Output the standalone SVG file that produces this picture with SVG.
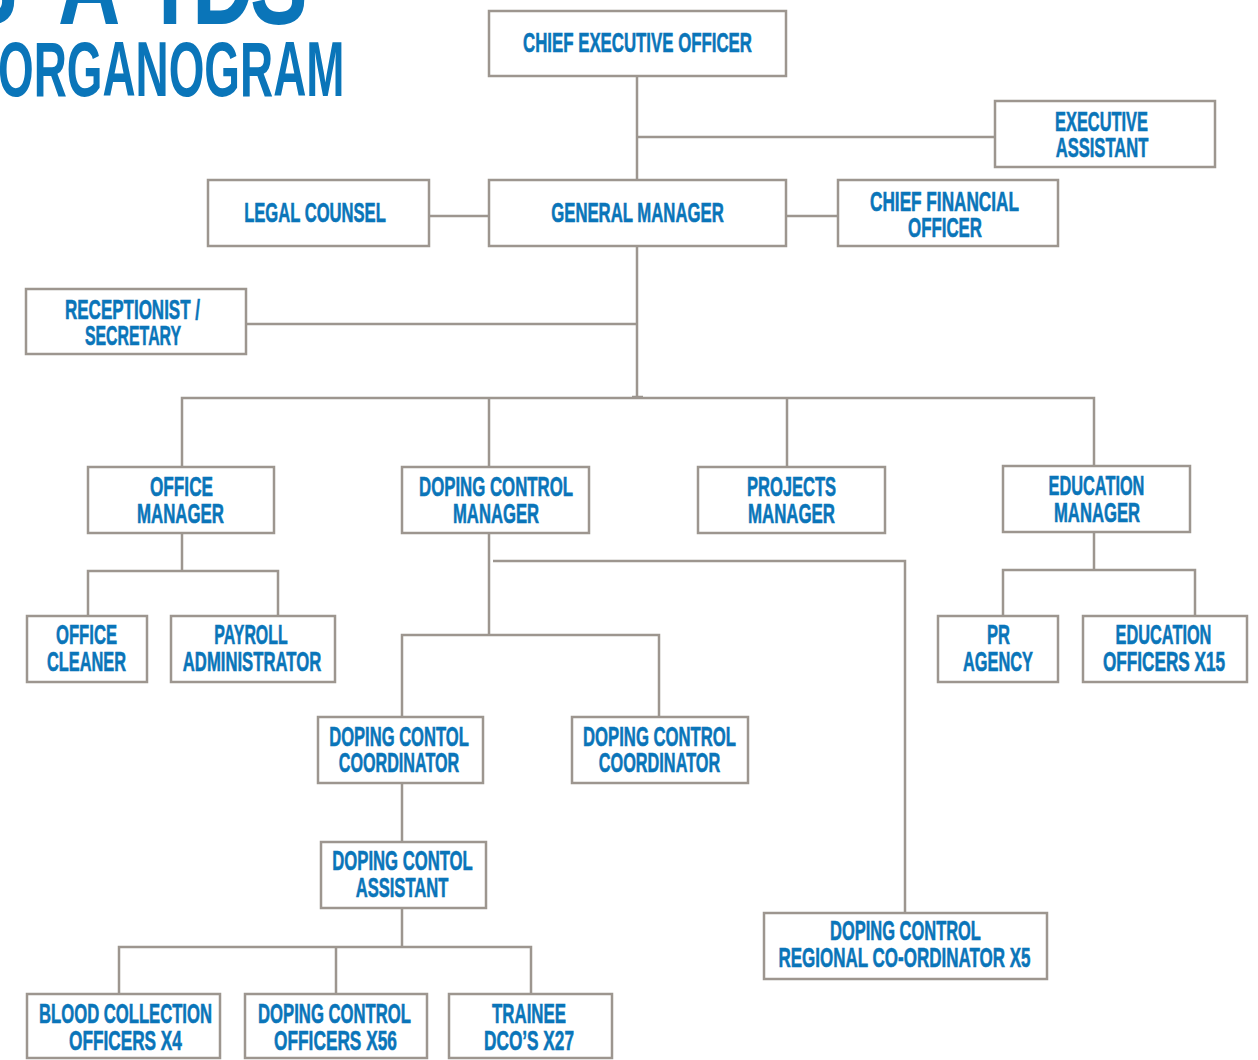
<svg xmlns="http://www.w3.org/2000/svg" width="1258" height="1060" viewBox="0 0 1258 1060">
<style>
  .box { fill: #ffffff; stroke: #9d968f; stroke-width: 2.5; }
  .ln { fill: none; stroke: #9d968f; stroke-width: 2.5; }
  .t { font-family: "Liberation Sans", Arial, sans-serif; font-weight: bold; font-size: 28px; fill: #0a75b9; stroke: #0a75b9; stroke-width: 0.6; text-anchor: middle; }
  .title { font-family: "Liberation Sans", Arial, sans-serif; font-weight: bold; fill: #0a75b9; }
</style>
<rect width="1258" height="1060" fill="#ffffff"/>
<g id="title">
  <text class="title" font-size="120" transform="translate(0,24) scale(0.72,1)" x="-55.6 80.6 219.4 266.7 347.2">SAIDS</text>
  <text class="title" font-size="78" transform="translate(-2,96) scale(0.588,1)">ORGANOGRAM</text>
</g>
<g id="connectors">
  <path class="ln" d="M637 76 V180 M637 137 H995 M429 216 H489 M786 216 H838 M637 246 V398 M246 324 H637 M632 397 H643"/>
  <path class="ln" d="M182 467 V398 H1094 V466 M489 398 V467 M787 398 V467"/>
  <path class="ln" d="M182 533 V571 M88 616 V571 H278 V616"/>
  <path class="ln" d="M489 533 V635 M402 717 V635 H659 V717 M493 561 H905 V913"/>
  <path class="ln" d="M1094 532 V570 M1003 616 V570 H1195 V616"/>
  <path class="ln" d="M402 783 V842 M402 908 V947 M119 994 V947 H531 V994 M336 947 V994"/>
</g>
<g id="ceo"><rect class="box" x="489" y="11" width="297" height="65"/><text class="t" transform="translate(637.5,52) scale(0.601,1)">CHIEF EXECUTIVE OFFICER</text></g>
<g id="exec-assistant"><rect class="box" x="995" y="101" width="220" height="66"/><text class="t" transform="translate(1101.5,131) scale(0.586,1)">EXECUTIVE</text><text class="t" transform="translate(1102,157) scale(0.592,1)">ASSISTANT</text></g>
<g id="legal"><rect class="box" x="208" y="180" width="221" height="66"/><text class="t" transform="translate(315,222) scale(0.593,1)">LEGAL COUNSEL</text></g>
<g id="gm"><rect class="box" x="489" y="180" width="297" height="66"/><text class="t" transform="translate(637.5,222) scale(0.598,1)">GENERAL MANAGER</text></g>
<g id="cfo"><rect class="box" x="838" y="180" width="220" height="66"/><text class="t" transform="translate(944.5,211) scale(0.614,1)">CHIEF FINANCIAL</text><text class="t" transform="translate(945,237) scale(0.602,1)">OFFICER</text></g>
<g id="receptionist"><rect class="box" x="26" y="289" width="220" height="65"/><text class="t" transform="translate(132.5,319) scale(0.607,1)">RECEPTIONIST /</text><text class="t" transform="translate(133,345) scale(0.567,1)">SECRETARY</text></g>
<g id="office-manager"><rect class="box" x="88" y="467" width="186" height="66"/><text class="t" transform="translate(181.5,496) scale(0.614,1)">OFFICE</text><text class="t" transform="translate(180.5,523) scale(0.602,1)">MANAGER</text></g>
<g id="dc-manager"><rect class="box" x="402" y="467" width="187" height="66"/><text class="t" transform="translate(496,496) scale(0.6,1)">DOPING CONTROL</text><text class="t" transform="translate(496,523) scale(0.595,1)">MANAGER</text></g>
<g id="projects-manager"><rect class="box" x="698" y="467" width="187" height="66"/><text class="t" transform="translate(791.5,496) scale(0.59,1)">PROJECTS</text><text class="t" transform="translate(791.5,523) scale(0.602,1)">MANAGER</text></g>
<g id="education-manager"><rect class="box" x="1003" y="466" width="187" height="66"/><text class="t" transform="translate(1096.5,495) scale(0.583,1)">EDUCATION</text><text class="t" transform="translate(1097,522) scale(0.595,1)">MANAGER</text></g>
<g id="office-cleaner"><rect class="box" x="27" y="616" width="120" height="66"/><text class="t" transform="translate(86.5,644) scale(0.594,1)">OFFICE</text><text class="t" transform="translate(86.5,671) scale(0.584,1)">CLEANER</text></g>
<g id="payroll"><rect class="box" x="171" y="616" width="164" height="66"/><text class="t" transform="translate(251,644) scale(0.568,1)">PAYROLL</text><text class="t" transform="translate(252,671) scale(0.596,1)">ADMINISTRATOR</text></g>
<g id="pr-agency"><rect class="box" x="938" y="616" width="120" height="66"/><text class="t" transform="translate(998.5,644) scale(0.591,1)">PR</text><text class="t" transform="translate(998,671) scale(0.584,1)">AGENCY</text></g>
<g id="education-officers"><rect class="box" x="1083" y="616" width="164" height="66"/><text class="t" transform="translate(1163.5,644) scale(0.583,1)">EDUCATION</text><text class="t" transform="translate(1164,671) scale(0.613,1)">OFFICERS X15</text></g>
<g id="dc-coordinator-1"><rect class="box" x="318" y="717" width="165" height="66"/><text class="t" transform="translate(399,746) scale(0.592,1)">DOPING CONTOL</text><text class="t" transform="translate(399,772) scale(0.577,1)">COORDINATOR</text></g>
<g id="dc-coordinator-2"><rect class="box" x="572" y="717" width="176" height="66"/><text class="t" transform="translate(659.5,746) scale(0.596,1)">DOPING CONTROL</text><text class="t" transform="translate(659.5,772) scale(0.582,1)">COORDINATOR</text></g>
<g id="dc-assistant"><rect class="box" x="321" y="842" width="165" height="66"/><text class="t" transform="translate(402.5,870) scale(0.596,1)">DOPING CONTOL</text><text class="t" transform="translate(402,897) scale(0.592,1)">ASSISTANT</text></g>
<g id="dc-regional"><rect class="box" x="764" y="913" width="283" height="66"/><text class="t" transform="translate(905.5,940) scale(0.588,1)">DOPING CONTROL</text><text class="t" transform="translate(904.5,967) scale(0.607,1)">REGIONAL CO-ORDINATOR X5</text></g>
<g id="blood-collection"><rect class="box" x="27" y="994" width="193" height="64"/><text class="t" transform="translate(125.5,1023) scale(0.595,1)">BLOOD COLLECTION</text><text class="t" transform="translate(125.5,1050) scale(0.615,1)">OFFICERS X4</text></g>
<g id="dco"><rect class="box" x="245" y="994" width="182" height="64"/><text class="t" transform="translate(334.5,1023) scale(0.596,1)">DOPING CONTROL</text><text class="t" transform="translate(335.5,1050) scale(0.617,1)">OFFICERS X56</text></g>
<g id="trainee"><rect class="box" x="449" y="994" width="163" height="64"/><text class="t" transform="translate(529,1023) scale(0.602,1)">TRAINEE</text><text class="t" transform="translate(529,1050) scale(0.615,1)">DCO’S X27</text></g>
</svg>
